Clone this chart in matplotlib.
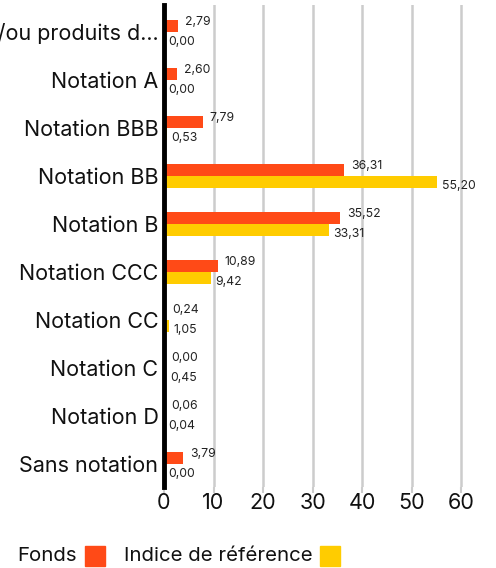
import matplotlib
matplotlib.use("Agg")
import matplotlib.pyplot as plt
import numpy as np
from matplotlib.patches import Rectangle

categories = ["AA/ou produits d…", "Notation A", "Notation BBB", "Notation BB",
              "Notation B", "Notation CCC", "Notation CC", "Notation C",
              "Notation D", "Sans notation"]
fonds = [2.79, 2.60, 7.79, 36.31, 35.52, 10.89, 0.24, 0.00, 0.06, 3.79]
indice = [0.00, 0.00, 0.53, 55.20, 33.31, 9.42, 1.05, 0.45, 0.04, 0.00]
xticks = [0, 10, 20, 30, 40, 50, 60]
series_names = ["Fonds", "Indice de référence"]

c_fonds = "#FF4A17"
c_ind = "#FFCC00"
plt.rcParams['font.family'] = ['Inter', 'DejaVu Sans']

fig = plt.figure(figsize=(4.96, 5.68), dpi=100)
ax = fig.add_axes([164/496, 1-487/568, 312/496, 482/568])

y = np.arange(len(categories))
h = 0.26
ax.barh(y - h/2, fonds, height=h, color=c_fonds, zorder=3)
ax.barh(y + h/2, indice, height=h, color=c_ind, zorder=3)

def fmt(v):
    return f"{v:.2f}".replace(".", ",")

for yi, f, i in zip(y, fonds, indice):
    ax.annotate(fmt(f), (f, yi - h/2), xytext=(5, 3), textcoords="offset points",
                ha="left", va="center", fontsize=8.8, color="#222222", zorder=4)
    ax.annotate(fmt(i), (i, yi + h/2), xytext=(3, -3), textcoords="offset points",
                ha="left", va="center", fontsize=8.8, color="#222222", zorder=4)

ax.set_xlim(0, 63)
ax.set_ylim(len(categories) - 1 + 23/48, -27/48)
ax.set_yticks(y)
ax.set_yticklabels(categories, fontsize=15.5, color="#111111")
ax.set_xticks(xticks)
ax.set_xticklabels([str(t) for t in xticks], fontsize=15.5, color="#111111")
ax.tick_params(axis="y", length=0, pad=4)
ax.tick_params(axis="x", length=4, width=1.5, color="#cccccc", pad=0)
ax.grid(axis="x", color="#cccccc", linewidth=1.8, zorder=0)
for s in ["top", "right", "bottom"]:
    ax.spines[s].set_visible(False)
ax.spines["left"].set_linewidth(3.5)
ax.spines["left"].set_color("black")
ax.spines["left"].set_zorder(5)

# legend
renderer = fig.canvas.get_renderer()
x = 17
for name, col in zip(series_names, [c_fonds, c_ind]):
    t = fig.text(x/496, 1-556/568, name, fontsize=14.7, va="center", ha="left", color="#111111")
    bb = t.get_window_extent(renderer=renderer)
    sx = bb.x1 + 8
    fig.patches.append(Rectangle((sx/496, 1-566/568), 20/496, 20/568,
                                 transform=fig.transFigure, color=col, figure=fig))
    x = sx + 20 + 19

fig.savefig("out.png", dpi=100)
